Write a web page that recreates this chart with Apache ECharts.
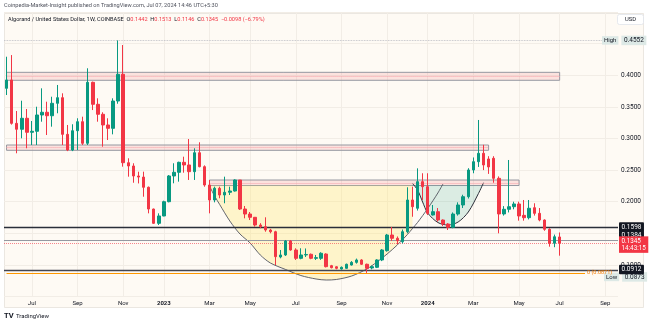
<!DOCTYPE html>
<html><head><meta charset="utf-8">
<script src="https://cdn.jsdelivr.net/npm/echarts/dist/echarts.min.js"></script>
<style>html,body{margin:0;padding:0;background:#fff;}#c{width:650px;height:324px;}</style>
</head><body><div id="c"></div>
<script>
// ---- weekly candles ALGO/USD (index 0 = week of 2022-05-30) ----
const opens = [0.3794,0.3926,0.3240,0.3146,0.3320,0.3098,0.3114,0.3372,0.3415,0.3360,
0.3557,0.3646,0.3066,0.2818,0.3123,0.3266,0.2924,0.3889,0.3541,0.3383,
0.3214,0.3161,0.3593,0.4016,0.2617,0.2565,0.2407,0.2390,0.2228,0.1884,
0.1658,0.1774,0.2000,0.2407,0.2465,0.2623,0.2581,0.2475,0.2775,0.2554,
0.2264,0.2027,0.2212,0.2106,0.2149,0.2169,0.2343,0.1884,0.1805,0.1753,
0.1631,0.1605,0.1552,0.1525,0.1125,0.1157,0.1378,0.1236,0.1104,0.1157,
0.1168,0.1104,0.1104,0.1172,0.0988,0.0970,0.0935,0.0946,0.0998,0.1040,
0.1078,0.1010,0.0951,0.0962,0.1078,0.1225,0.1473,0.1421,0.1367,0.1525,
0.2027,0.1896,0.2317,0.2238,0.1790,0.1842,0.1710,0.1647,0.1595,0.1805,
0.1948,0.2079,0.2502,0.2633,0.2766,0.2676,0.2687,0.2370,0.1806,0.1880,
0.1921,0.1964,0.1784,0.1747,0.1905,0.1816,0.1710,0.1563,0.1342,0.1442];
const highs = [0.4294,0.4320,0.3435,0.3598,0.3467,0.3277,0.3503,0.3794,0.3582,0.3661,
0.3847,0.3715,0.3214,0.3225,0.3320,0.3345,0.4111,0.3900,0.3636,0.3415,
0.3320,0.3636,0.4552,0.4479,0.2687,0.2608,0.2475,0.2475,0.2240,0.1890,
0.1816,0.2016,0.2422,0.2608,0.2633,0.2712,0.2992,0.2845,0.2940,0.2575,
0.2344,0.2238,0.2238,0.2396,0.2238,0.2354,0.2343,0.1932,0.1837,0.1758,
0.1660,0.1753,0.1570,0.1540,0.1236,0.1394,0.1394,0.1263,0.1263,0.1260,
0.1180,0.1157,0.1200,0.1184,0.1000,0.0980,0.0975,0.1020,0.1060,0.1100,
0.1090,0.1020,0.0990,0.1090,0.1250,0.1490,0.1600,0.1450,0.1560,0.2228,
0.2238,0.2528,0.2450,0.2450,0.1948,0.1900,0.1720,0.1660,0.1830,0.1990,
0.2110,0.2530,0.2700,0.3293,0.2900,0.2720,0.2720,0.2400,0.1930,0.2660,
0.2000,0.2000,0.2027,0.2027,0.1975,0.1900,0.1720,0.1580,0.1480,0.1513];
const lows = [0.3688,0.3220,0.2766,0.3003,0.2845,0.2897,0.2897,0.3266,0.3055,0.3187,
0.3399,0.2897,0.2800,0.2800,0.2818,0.2897,0.2897,0.3450,0.3266,0.2870,
0.2976,0.3066,0.3550,0.2554,0.2396,0.2300,0.2289,0.2079,0.1816,0.1647,
0.1631,0.1770,0.1990,0.2291,0.2317,0.2459,0.2344,0.2344,0.2544,0.2237,
0.1816,0.1990,0.2054,0.1975,0.2106,0.2160,0.1869,0.1737,0.1710,0.1605,
0.1580,0.1525,0.1500,0.0998,0.1104,0.1141,0.1225,0.1078,0.1089,0.1125,
0.1090,0.1078,0.1080,0.0960,0.0945,0.0930,0.0925,0.0940,0.0990,0.1020,
0.1000,0.0873,0.0930,0.0950,0.1060,0.1210,0.1380,0.1330,0.1340,0.1500,
0.1762,0.1860,0.2027,0.1790,0.1780,0.1684,0.1616,0.1552,0.1580,0.1780,
0.1900,0.2050,0.2450,0.2550,0.2500,0.2440,0.2300,0.1500,0.1780,0.1830,
0.1880,0.1700,0.1700,0.1720,0.1780,0.1690,0.1540,0.1288,0.1280,0.1146];
const closes = [0.3926,0.3240,0.3146,0.3320,0.3098,0.3114,0.3372,0.3415,0.3360,0.3557,
0.3646,0.3066,0.2818,0.3123,0.3266,0.2924,0.3889,0.3541,0.3383,0.3214,
0.3161,0.3593,0.4016,0.2617,0.2565,0.2407,0.2390,0.2228,0.1884,0.1658,
0.1774,0.2000,0.2407,0.2465,0.2623,0.2581,0.2475,0.2775,0.2554,0.2264,
0.2027,0.2212,0.2106,0.2149,0.2169,0.2343,0.1884,0.1805,0.1753,0.1631,
0.1605,0.1552,0.1525,0.1130,0.1157,0.1378,0.1236,0.1104,0.1157,0.1165,
0.1104,0.1115,0.1184,0.0972,0.0956,0.0946,0.0962,0.1010,0.1040,0.1078,
0.1010,0.0946,0.0972,0.1078,0.1236,0.1473,0.1421,0.1383,0.1525,0.2027,
0.1921,0.2317,0.2238,0.1816,0.1842,0.1710,0.1647,0.1595,0.1805,0.1948,
0.2079,0.2502,0.2633,0.2766,0.2581,0.2550,0.2370,0.1806,0.1880,0.1921,
0.1964,0.1774,0.1747,0.1896,0.1816,0.1710,0.1563,0.1342,0.1445,0.1345];

// time-axis tick labels (first weekly bar of the month)
const tickDates = ['2022-07-04','2022-09-05','2022-11-07','2023-01-02','2023-03-06','2023-05-01','2023-07-03','2023-09-04','2023-11-06','2024-01-01','2024-03-04','2024-05-06','2024-07-01','2024-09-02'];
const tickTexts = ['Jul','Sep','Nov','2023','Mar','May','Jul','Sep','Nov','2024','Mar','May','Jul','Sep'];
const yTickLabels = ['0.1000','0.2000','0.2500','0.3000','0.3500','0.4000'];

// drawn zones [startWeek, endWeek, low, high]
const zoneTop = [0, 109, 0.3921, 0.4047];
const zoneMid = [0, 95, 0.2813, 0.2897];
const zoneCup = [40, 101, 0.2256, 0.2343];
// horizontal levels
const levelResist = 0.1598, levelSupport2 = 0.1384, levelSupport = 0.0912, fibZero = 0.0871;
const highMark = 0.4552, lowMark = 0.0873, lastPrice = 0.1345;
// cup arc [week, price] and handle arc
const cupArc = [[40,0.2248],[41,0.2090],[42,0.1956],[44,0.1695],[46,0.1489],[48,0.1347],[50,0.1157],[52,0.1030],[55,0.0927],[58,0.0832],[61,0.0777],[63,0.0761],[65,0.0769],[68,0.0824],[71,0.0935],[73,0.1046],[75,0.1172],[77,0.1315],[79,0.1481],[80,0.1576],[81,0.1671],[83,0.1892],[85,0.2138],[86,0.2280]];
const handleArc = [[80,0.2290],[81,0.2185],[82,0.1995],[83,0.1821],[85,0.1671],[87,0.1631],[89,0.1679],[91,0.1837],[93,0.2130],[94,0.2300]];

const weekCount = 121;
const cats = [];
for (let i = 0; i < weekCount; i++) {
  cats.push(new Date(Date.UTC(2022, 4, 30) + i * 604800000).toISOString().slice(0, 10));
}
const tickMap = {};
tickDates.forEach((d, k) => { tickMap[d] = tickTexts[k]; });
const candles = opens.map((o, i) => [o, closes[i], lows[i], highs[i]]);
const last = opens.length - 1;

const FONT = 'Roboto, "Liberation Sans", sans-serif';
const darkLbl = (txt, off) => ({show:true, position:'end', distance:1, formatter:txt, color:'#ffffff', backgroundColor:'#131722',
  padding:[1.5,2.5,1,2.5], fontSize:6.5, fontFamily:FONT, borderRadius:1, offset:off||[0,0]});
const hlLbl = (word, val, off) => ({show:true, position:'end', distance:1, formatter:'{a|'+word+'} {b|'+val+'}', offset:off,
  rich:{a:{backgroundColor:'#dde9e6', color:'#131722', fontSize:6, padding:[1.5,2,1,2], fontFamily:FONT},
        b:{backgroundColor:'#dde9e6', color:'#131722', fontSize:6.5, padding:[1.5,2.5,1,2.5], fontFamily:FONT}}});
const zoneArea = z => [{xAxis:cats[z[0]], yAxis:z[2]}, {xAxis:cats[z[1]], yAxis:z[3]}];
const zoneMidLine = z => [{coord:[cats[z[0]], (z[2]+z[3])/2], lineStyle:{type:'dotted', color:'#f5a3aa', width:1}, label:{show:false}}, {coord:[cats[z[1]], (z[2]+z[3])/2]}];
const polyFill = (pts, color) => ({
  type:'custom', silent:true, z:1, data:[[0, 0]],
  renderItem: (params, api) => ({type:'polygon', shape:{points: pts.map(p => api.coord([p[0], p[1]]))}, style:{fill:color}})
});

const chart = echarts.init(document.getElementById('c'), null, {renderer:'canvas'});
chart.setOption({
  animation:false,
  backgroundColor:'#ffffff',
  textStyle:{fontFamily:FONT},
  title:[
    {text:'Coinpedia-Market-Insight published on TradingView.com, Jul 07, 2024 14:46 UTC+5:30', left:4, top:2.5, padding:0,
     textStyle:{fontSize:5.6, color:'#50535e', fontWeight:'normal', fontFamily:FONT}},
    {text:'{n|Algorand / United States Dollar, 1W, COINBASE}  {k|O}{v|'+opens[last].toFixed(4)+'}  {k|H}{v|'+highs[last].toFixed(4)+'}  {k|L}{v|'+lows[last].toFixed(4)+'}  {k|C}{v|'+closes[last].toFixed(4)+'}  {v|\u22120.0098 (\u22126.79%)}',
     left:8, top:16.5, padding:0,
     textStyle:{fontSize:5.6, fontWeight:'normal', rich:{n:{color:'#131722', fontSize:5.6, fontFamily:FONT}, k:{color:'#131722', fontSize:5.6, fontFamily:FONT}, v:{color:'#f23645', fontSize:5.6, fontFamily:FONT}}}}
  ],
  graphic:[
    {type:'rect', z:-10, silent:true, shape:{x:4.5, y:13.5, width:639, height:294}, style:{fill:'#fefaf4', stroke:'#ebe7e1', lineWidth:1}},
    {type:'rect', z:10, silent:true, shape:{x:617.5, y:14.5, width:26, height:10, r:2}, style:{fill:'#ffffff', stroke:'#e0e3eb', lineWidth:0.8}},
    {type:'text', z:11, silent:true, x:630.5, y:19.5, style:{text:'USD', fontSize:5.8, fill:'#131722', align:'center', verticalAlign:'middle', fontFamily:FONT}},
    {type:'text', z:11, silent:true, x:4, y:316, style:{text:'TV', fontSize:7.5, fontWeight:'bold', fill:'#131722', verticalAlign:'middle', fontFamily:FONT}},
    {type:'text', z:11, silent:true, x:16, y:316, style:{text:'TradingView', fontSize:6, fill:'#131722', verticalAlign:'middle', fontFamily:FONT}}
  ],
  grid:{left:4, right:32, top:12.1, bottom:27.5, containLabel:false},
  xAxis:{
    type:'category', data:cats, boundaryGap:true,
    axisLine:{show:false}, axisTick:{show:false},
    axisLabel:{interval:(i, v) => !!tickMap[v], margin:4, fontSize:6, color:'#131722', fontFamily:FONT,
      formatter:v => /^\d{4}$/.test(tickMap[v]) ? '{y|' + tickMap[v] + '}' : (tickMap[v] || ''),
      rich:{y:{fontWeight:'bold', fontSize:6, color:'#131722', fontFamily:FONT}}},
    splitLine:{show:true, alignWithLabel:true, interval:(i, v) => !!tickMap[v], lineStyle:{color:'#f2ede6', width:1}}
  },
  yAxis:{
    type:'value', position:'right', min:0.05, max:0.5, interval:0.05, scale:false,
    axisLine:{show:false}, axisTick:{show:false},
    splitLine:{lineStyle:{color:'#f2ede6', width:1}},
    axisLabel:{margin:3, fontSize:6.5, color:'#131722', fontFamily:FONT,
      formatter:v => yTickLabels.indexOf(v.toFixed(4)) >= 0 ? v.toFixed(4) : ''}
  },
  series:[
    polyFill([[zoneCup[0], zoneCup[2]], [80, zoneCup[2]]].concat(cupArc.filter(p => p[0] <= 80).slice().reverse()), 'rgba(255,232,120,0.34)'),
    polyFill([[80, zoneCup[2]], [94, zoneCup[2]]].concat(handleArc.slice().reverse()), 'rgba(8,153,129,0.14)'),
    {type:'line', data:cupArc.map(p => [cats[p[0]], p[1]]), smooth:0.3, symbol:'none', silent:true, z:3,
     lineStyle:{color:'#50535e', width:0.9}},
    {type:'line', data:handleArc.map(p => [cats[p[0]], p[1]]), smooth:0.3, symbol:'none', silent:true, z:3,
     lineStyle:{color:'#2a2e39', width:1}},
    {
      type:'candlestick', name:'ALGOUSD', data:candles, barWidth:3, z:5,
      itemStyle:{color:'#089981', color0:'#f23645', borderColor:'#089981', borderColor0:'#f23645', borderWidth:1},
      markArea:{silent:true, itemStyle:{color:'rgba(242,54,69,0.12)', borderColor:'#9598a1', borderWidth:1},
        data:[zoneArea(zoneTop), zoneArea(zoneMid), zoneArea(zoneCup)]},
      markLine:{silent:true, symbol:['none','none'], precision:4, animation:false,
        data:[
          zoneMidLine(zoneTop), zoneMidLine(zoneMid), zoneMidLine(zoneCup),
          {yAxis:highMark, lineStyle:{color:'#b2b5be', type:'dotted', width:0.8}, label:hlLbl('High', highMark.toFixed(4), [-17, 0])},
          {yAxis:lowMark, lineStyle:{color:'rgba(0,0,0,0)', type:'solid', width:0.5}, label:hlLbl('Low', lowMark.toFixed(4), [-15, 4])},
          {yAxis:levelResist, lineStyle:{color:'#2a2e39', type:'solid', width:1.4}, label:darkLbl(levelResist.toFixed(4))},
          {yAxis:levelSupport2, lineStyle:{color:'#9598a1', type:'solid', width:1}, label:darkLbl(levelSupport2.toFixed(4), [0, -5.5])},
          {yAxis:lastPrice, lineStyle:{color:'rgba(242,54,69,0.6)', type:'dotted', width:1},
           label:{show:true, position:'end', distance:1, formatter:lastPrice.toFixed(4) + '\n14:43:15', color:'#ffffff', backgroundColor:'#f23645',
                  padding:[1.5,2.5,1,2.5], fontSize:6.3, lineHeight:7, fontFamily:FONT, offset:[0, 1.5]}},
          {yAxis:levelSupport, lineStyle:{color:'#434651', type:'solid', width:1.4}, label:darkLbl(levelSupport.toFixed(4), [0, -1])},
          [{coord:[cats[0], fibZero], lineStyle:{color:'#ff9800', type:'solid', width:1},
            label:{show:true, position:'end', distance:2, formatter:'0 (' + fibZero.toFixed(4) + ')', color:'#f57c00', fontSize:5.5, fontFamily:FONT}},
           {coord:[cats[114], fibZero]}]
        ]}
    }
  ]
});
</script></body></html>
